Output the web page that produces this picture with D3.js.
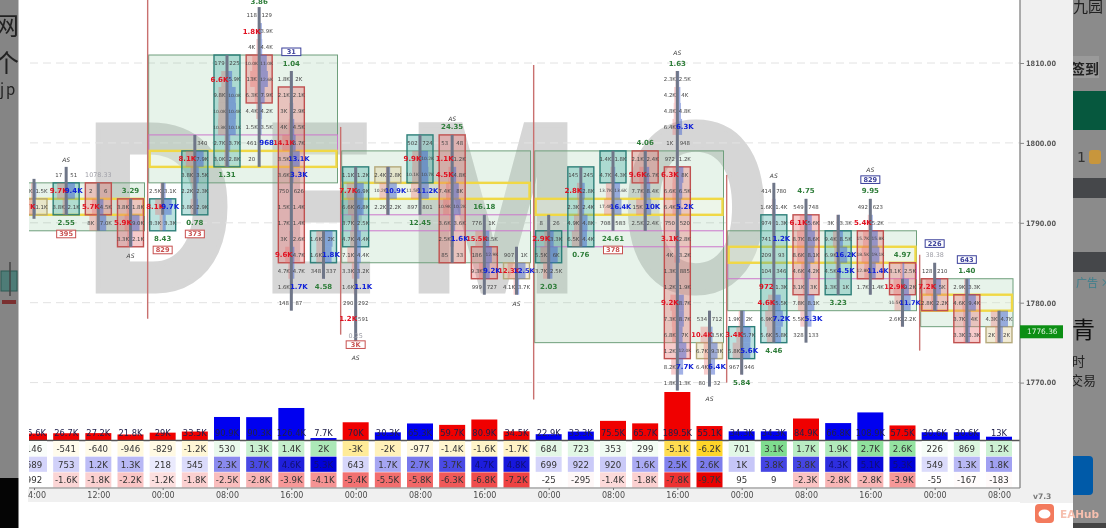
<!DOCTYPE html>
<html><head><meta charset="utf-8">
<style>html,body{margin:0;padding:0;background:#fff;overflow:hidden}svg{display:block;filter:blur(.35px)}text{font-family:"DejaVu Sans",sans-serif}</style>
<script src="https://cdnjs.cloudflare.com/ajax/libs/d3/7.8.5/d3.min.js"></script>
</head><body><svg id="c" width="1106" height="528"></svg>
<script>
// ---- price levels
const priceTicks=[1810,1800,1790,1780,1770];
const lastPrice=1776.36;
const timeLabels=[[0,"04:00"],[2,"12:00"],[4,"00:00"],[6,"08:00"],[8,"16:00"],[10,"00:00"],[12,"08:00"],[14,"16:00"],[16,"00:00"],[18,"08:00"],[20,"16:00"],[22,"00:00"],[24,"08:00"],[26,"16:00"],[28,"00:00"],[30,"08:00"]];
// ---- footprint candles (* = highlighted imbalance)
const firstRow=[1794,1796,1794,1792,1794,1800,1810,1816,1808,1788,1796,1796,1800,1800,1790,1786,1790,1796,1798,1798,1808,1778,1778,1794,1792,1790,1792,1784,1784,1782,1778];
const bodyTop=[1793,1795,1795,1793,1793,1799,1811,1811,1807,1789,1797,1797,1801,1801,1787,1785,1789,1797,1799,1799,1797,1775,1777,1791,1791,1789,1789,1785,1783,1781,1777];
const bodyBottom=[1791,1791,1791,1787,1789,1791,1797,1805,1785,1785,1787,1795,1795,1785,1783,1783,1785,1787,1795,1795,1773,1773,1773,1775,1781,1781,1783,1781,1779,1775,1775];
const stemTop=[1795.5,1797,1795,1793,1795,1801,1811,1817,1809,1789,1797,1797,1801,1801,1791,1787,1791,1797,1799,1799,1809,1779,1779,1795,1793,1791,1793,1783,1785,1783,1779];
const stemBottom=[1790.5,1791,1789,1787,1791,1791,1797,1797,1779,1783,1775,1791,1791,1785,1781,1781,1783,1787,1789,1789,1769,1769.5,1771,1775,1775,1781,1781,1777,1779,1775,1775];
const bodyKind=["d","u","r","r","u","u","u","r","r","u","u","d","u","r","r","d","u","u","u","r","r","d","u","u","r","u","r","r","r","r","d"];
const cells0=[["1.9K","1.5K"],["*5.7K","1.1K"]];
const cells1=[["17","51"],["*9.7K","*9.4K"],["3.8K","2.1K"]];
const cells2=[["2","6"],["*5.7K","4.5K"],["8K","7.0K"]];
const cells3=[["3.8K","1.8K"],["*5.9K","9.0K"],["3.3K","2.1K"]];
const cells4=[["2.5K","3.1K"],["*8.1K","*9.7K"],["3.3K","3.3K"]];
const cells5=[["","340"],["*8.1K","7.9K"],["3.8K","3.5K"],["2.2K","2.3K"],["3.8K","2.9K"]];
const cells6=[["179","225"],["*6.6K","5.9K"],["9.8K","10.0K"],["10.0K","10.4K"],["10.3K","10.1K"],["2.7K","3.7K"],["3.0K","2.8K"]];
const cells7=[["118","129"],["*1.8K","3.9K"],["4K","4.4K"],["10.0K","11.0K"],["13K","12.6K"],["6.3K","7.9K"],["4.4K","4.2K"],["1.5K","3.5K"],["461","*968"],["20",""]];
const cells8=[["1.8K","2K"],["2.1K","2.1K"],["3K","2.9K"],["4K","4.5K"],["*14.1K","6.7K"],["3.5K","*13.1K"],["3.6K","*3.3K"],["750","626"],["1.5K","1.4K"],["1.7K","1.4K"],["3K","2.6K"],["*9.6K","4.7K"],["4.7K","4.7K"],["1.6K","*1.7K"],["148","87"]];
const cells9=[["1.6K","2K"],["1.6K","*1.8K"],["348","337"]];
const cells10=[["1.1K","1.2K"],["*7.7K","6.9K"],["6.6K","6.8K"],["3.7K","2.5K"],["4.7K","4.4K"],["7.1K","4.4K"],["3.3K","3.2K"],["1.6K","*1.1K"],["290","292"],["*1.2K","591"]];
const cells11=[["2.4K","2.8K"],["10.2K","*10.9K"],["2.2K","2.2K"]];
const cells12=[["502","724"],["*9.9K","10.2K"],["10.1K","10.7K"],["11.5K","*11.2K"],["897","801"]];
const cells13=[["53","48"],["*1.1K","1.2K"],["*4.5K","4.8K"],["7.4K","8K"],["10.9K","10.2K"],["3.6K","3.6K"],["2.5K","*1.6K"],["85","33"]];
const cells14=[["776","1K"],["*15.5K","8.5K"],["186","12.9K"],["9.3K","*9.2K"],["999","727"]];
const cells15=[["907","1K"],["*12.3K","*12.5K"],["4.1K","3.7K"]];
const cells16=[["8","26"],["*2.9K","3.3K"],["5.5K","6K"],["3.7K","2.5K"]];
const cells17=[["145","245"],["*2.8K","2.8K"],["2.3K","2.4K"],["4.9K","4.8K"],["6.5K","4.4K"]];
const cells18=[["1.4K","1.8K"],["4.7K","4.3K"],["13.7K","13.6K"],["17.4K","*16.4K"],["708","583"]];
const cells19=[["2.1K","2.4K"],["*9.6K","6.7K"],["7.7K","8.4K"],["15K","*10K"],["2.5K","2.4K"]];
const cells20=[["2.3K","2.5K"],["4.2K","4K"],["4.8K","4.8K"],["6.4K","*6.3K"],["1K","948"],["972","1.2K"],["*6.3K","8K"],["6.6K","6.5K"],["6.4K","*5.2K"],["750","520"],["*3.1K","2.8K"],["4K","3.2K"],["1.3K","885"],["1.2K","1.9K"],["*9.2K","8.7K"],["7.3K","8.7K"],["6.8K","7K"],["1.2K","12.0K"],["8.2K","*7.7K"],["1.8K","1.3K"]];
const cells21=[["534","712"],["*10.4K","3.5K"],["6.7K","9.3K"],["6.4K","*6.4K"],["80","32"]];
const cells22=[["1.9K","2K"],["*3.4K","5.7K"],["5.8K","*5.6K"],["967","946"]];
const cells23=[["414","780"],["1.6K","1.4K"],["974","1.3K"],["741","*1.2K"],["209","93"],["104","346"],["*972","1.3K"],["*4.6K","5.5K"],["6.9K","*7.2K"],["5.6K","5.8K"]];
const cells24=[["549","748"],["*6.1K","5.6K"],["8.7K","8.6K"],["8.6K","8.1K"],["4.6K","4.2K"],["3.1K","3K"],["7.8K","8.1K"],["5.5K","*5.3K"],["328","133"]];
const cells25=[["3K","3.3K"],["9.4K","8.5K"],["6.9K","*16.2K"],["4.5K","*4.5K"],["1.3K","1K"]];
const cells26=[["492","623"],["*5.4K","5.2K"],["15.7K","15.8K"],["18.5K","19.1K"],["12.8K","*11.4K"],["1.7K","1.4K"]];
const cells27=[["3.1K","2.5K"],["*12.9K","9.2K"],["11.5K","*11.7K"],["2.6K","2.2K"]];
const cells28=[["128","210"],["*7.2K","5K"],["2.8K","2.2K"]];
const cells29=[["2.9K","3.3K"],["4.6K","9.4K"],["3.7K","4K"],["3.3K","3.3K"]];
const cells30=[["4.3K","4.7K"],["2K","2K"]];
const allCells=[cells0,cells1,cells2,cells3,cells4,cells5,cells6,cells7,cells8,cells9,cells10,cells11,cells12,cells13,cells14,cells15,cells16,cells17,cells18,cells19,cells20,cells21,cells22,cells23,cells24,cells25,cells26,cells27,cells28,cells29,cells30];
// ---- labels
const ratios=[[1,1790,"2.55"],[3,1794,"3.29"],[4,1788,"8.43"],[5,1790,"0.78"],[6,1796,"1.31"],[8,1810,"1.04"],[9,1782,"4.58"],[12,1790,"12.45"],[13,1802,"24.35"],[14,1792,"16.18"],[16,1782,"2.03"],[17,1786,"0.76"],[18,1788,"24.61"],[19,1800,"4.06"],[20,1810,"1.63"],[22,1770,"5.84"],[23,1774,"4.46"],[24,1794,"4.75"],[25,1780,"3.23"],[26,1794,"9.95"],[27,1786,"4.97"],[29,1784,"1.40"],[7,1817.7,"3.86"]];
const boxedRed=[[1,1788.6,"395"],[4,1786.6,"829"],[5,1788.6,"373"],[10,1774.75,"3K"],[18,1786.6,"378"]];
const boxedBlue=[[8,1811.4,"31"],[26,1795.4,"829"],[28,1787.4,"226"],[29,1785.4,"643"]];
const grayNotes=[[2,1796,"1078.33"],[10,1775.9,"0.25"],[28,1786,"38.38"]];
const signals=[[1,1797.9],[3,1785.9],[10,1773.1],[13,1803],[15,1779.9],[20,1811.3],[21,1768],[23,1795.9],[26,1796.6]];
// ---- sessions: first col, last col, top, bottom, poc top, poc bottom, band top, band bottom
const sessionStart=[0,4,10,16,22,28];
const sessionEnd=[3,9,15,21,27,30];
const vaTop=[1795,1811,1799,1799,1789,1783];
const vaBottom=[1789,1795,1785,1775,1779,1777];
const pocTop=[1793,1799,1795,1793,1787,1781];
const pocBottom=[1791,1797,1793,1791,1785,1779];
const bandTop=[null,1801,1791,1789,1785,null];
const bandBottom=[null,1799,1789,1787,1783,null];
const openLineTop=[null,1818,1802,1809.75,1796,1786];
const openLineBottom=[null,1778,1776,1767.9,1770,1774];
// ---- bottom panel
const volume=[25600,26700,27200,21800,29000,33500,90900,90300,126400,7700,70000,30300,65300,59700,80900,34500,22900,33300,75500,65700,189500,55100,34300,34300,84900,66800,108900,57500,30600,30600,13000];
const volumeDir=["r","r","r","r","r","r","b","b","b","b","r","b","b","r","r","r","b","b","r","r","r","r","b","b","r","b","b","r","b","b","b"];
const deltaRow=[146,-541,-640,-946,-829,-1200,530,1300,1400,2000,-3000,-2000,-977,-1400,-1600,-1700,684,723,353,299,-5100,-6200,701,3100,1700,1900,2700,2600,226,869,1200];
const maxRow=[689,753,1200,1300,218,545,2300,3700,4600,5300,643,1700,2700,3700,4700,4800,699,922,920,1600,2500,2600,1000,3800,3800,4300,5100,5300,549,1300,1800];
const minRow=[992,-1600,-1800,-2200,-1200,-1800,-2500,-2800,-3900,-4100,-5400,-5500,-5800,-6300,-6800,-7200,-25,-295,-1400,-1800,-7800,-9700,95,9,-2300,-2800,-2800,-3900,-55,-167,-183];

const svg=d3.select("#c");
const x=d3.scaleLinear().domain([0,30]).range([34,999]);
const y=d3.scaleLinear().domain([1770,1810]).range([382.6,63]);
const defs=svg.append("defs");
defs.append("clipPath").attr("id","plot").append("rect").attr("x",29).attr("y",0).attr("width",991).attr("height",528);
svg.append("rect").attr("width",1106).attr("height",528).attr("fill","#fff");

// axis column + time strip
svg.append("rect").attr("x",1020).attr("y",0).attr("width",53).attr("height",503).attr("fill","#f0f0f0");
svg.append("rect").attr("x",28).attr("y",489).attr("width",1045).attr("height",13).attr("fill","#f0f0f0");

// watermark
const wm=svg.append("g").attr("fill","#d6d6d6").attr("stroke","#d6d6d6").attr("stroke-width",5);
[["D",84,150],["E",263,112],["M",407,172],["O",622,148]].forEach(([t,lx,lw])=>{
  wm.append("text").attr("x",lx).attr("y",291).attr("font-size",242).attr("style",'font-family:"Liberation Sans";font-weight:700')
    .attr("textLength",lw).attr("lengthAdjust","spacingAndGlyphs").text(t);
});

const plot=svg.append("g").attr("clip-path","url(#plot)");
// grid
plot.selectAll(".g").data(priceTicks).join("line").attr("x1",30).attr("x2",1020)
  .attr("y1",d=>y(d)).attr("y2",d=>y(d)).attr("stroke","#e2e2e2").attr("stroke-dasharray","8 5");

// sessions
sessionStart.forEach((s,i)=>{
  const x0=x(s)-14,x1=x(sessionEnd[i])+14;
  plot.append("rect").attr("x",x0).attr("y",y(vaTop[i])).attr("width",x1-x0).attr("height",y(vaBottom[i])-y(vaTop[i]))
    .attr("fill","rgba(120,190,140,.18)").attr("stroke","#6f9f7c").attr("stroke-width",1);
  if(bandTop[i]!==null) plot.append("rect").attr("x",x0).attr("y",y(bandTop[i])).attr("width",x1-x0).attr("height",y(bandBottom[i])-y(bandTop[i]))
    .attr("fill","none").attr("stroke","#cc77cc").attr("stroke-width",1);
  plot.append("rect").attr("x",x0+1).attr("y",y(pocTop[i])).attr("width",x1-x0-2).attr("height",y(pocBottom[i])-y(pocTop[i]))
    .attr("fill","rgba(255,255,230,.25)").attr("stroke","#f0d845").attr("stroke-width",2.4);
  if(openLineTop[i]!==null) plot.append("line").attr("x1",x0-1).attr("x2",x0-1).attr("y1",y(openLineTop[i])).attr("y2",y(openLineBottom[i]))
    .attr("stroke","#c9706f").attr("stroke-width",1.4);
});

// footprint
const parseV=s=>{s=s.replace("*","");if(!s)return 0;return s.endsWith("K")?parseFloat(s)*1000:parseFloat(s)};
const bodyFill={u:"rgba(60,170,160,.34)",r:"rgba(232,110,110,.36)",d:"rgba(220,205,150,.38)"};
const bodyStroke={u:"#2d7f78",r:"#c0504f",d:"#b5aa7c"};
allCells.forEach((rows,i)=>{
  const g=plot.append("g"),cx=x(i);
  g.append("rect").attr("x",cx-13).attr("y",y(bodyTop[i])).attr("width",26).attr("height",y(bodyBottom[i])-y(bodyTop[i]))
    .attr("fill",bodyFill[bodyKind[i]]).attr("stroke",bodyStroke[bodyKind[i]]).attr("stroke-width",1.4);
  const mx=d3.max(rows,r=>Math.max(parseV(r[0]),parseV(r[1])));
  const w=d3.scaleLinear().domain([0,mx]).range([0,9]);
  const rowY=k=>y(firstRow[i]-2*k);
  rows.forEach((r,k)=>{
    g.append("rect").attr("x",cx-w(parseV(r[0]))).attr("y",rowY(k)-8).attr("width",w(parseV(r[0]))).attr("height",16).attr("fill","rgba(232,100,100,.32)");
    g.append("rect").attr("x",cx).attr("y",rowY(k)-8).attr("width",w(parseV(r[1]))).attr("height",16).attr("fill","rgba(70,100,205,.5)");
  });
  g.append("line").attr("x1",cx).attr("x2",cx).attr("y1",y(stemTop[i])).attr("y2",y(stemBottom[i])).attr("stroke","#6f7688").attr("stroke-width",3);
  rows.forEach((r,k)=>{
    [0,1].forEach(side=>{
      const s=r[side];if(!s)return;const hot=s[0]=="*";
      g.append("text").attr("x",cx+(side?7.5:-7.5)).attr("y",rowY(k)).attr("dy",".36em").attr("text-anchor","middle")
       .attr("font-size",hot?(s.length>5?6.6:7):(s.length>=5?4.4:5.4)).attr("font-weight",hot?700:400)
       .attr("fill",hot?(side?"#1020d8":"#e01020"):"#444").text(s.replace("*",""));
    });
  });
});
// labels
plot.selectAll(".r").data(ratios).join("text").attr("x",d=>x(d[0])).attr("y",d=>y(d[1])).attr("dy",".36em").attr("text-anchor","middle")
  .attr("font-size",7).attr("font-weight",700).attr("fill","#2f7d3a").text(d=>d[2]);
plot.selectAll(".n").data(grayNotes).join("text").attr("x",d=>x(d[0])).attr("y",d=>y(d[1])).attr("dy",".36em").attr("text-anchor","middle")
  .attr("font-size",6.4).attr("fill","#a0a0a8").text(d=>d[2]);
const boxed=(data,col,fill)=>data.forEach(d=>{
  plot.append("rect").attr("x",x(d[0])-9.5).attr("y",y(d[1])-3.8).attr("width",19).attr("height",7.6).attr("fill",fill).attr("stroke",col).attr("stroke-width",1);
  plot.append("text").attr("x",x(d[0])).attr("y",y(d[1])).attr("dy",".36em").attr("text-anchor","middle").attr("font-size",6.6).attr("font-weight",700).attr("fill",col).text(d[2]);
});
boxed(boxedRed,"#c8504f","#fff");
boxed(boxedBlue,"#3a3f9a","#fff");
plot.selectAll(".s").data(signals).join("text").attr("x",d=>x(d[0])).attr("y",d=>y(d[1])).attr("dy",".36em").attr("text-anchor","middle")
  .attr("font-size",6).attr("font-style","italic").attr("fill","#444").text("AS");

// volume bars
const vy=d3.scaleLinear().domain([0,189500]).range([440,392]);
plot.selectAll(".v").data(volume).join("rect").attr("x",(d,i)=>x(i)-13).attr("width",26).attr("y",d=>vy(d)).attr("height",d=>440-vy(d))
  .attr("fill",(d,i)=>volumeDir[i]=="r"?"#f00000":"#0000f0");
const fmtK=v=>{const a=Math.abs(v),s=a<1000?String(a):d3.format(".1f")(a/1000).replace(/\.0$/,"")+"K";return (v<0?"-":"")+s};
plot.selectAll(".vl").data(volume).join("text").attr("x",(d,i)=>x(i)).attr("y",433).attr("dy",".36em").attr("text-anchor","middle")
  .attr("font-size",8.3).attr("fill","#20204a").text(fmtK);
plot.append("line").attr("x1",29).attr("x2",1020).attr("y1",440.5).attr("y2",440.5).attr("stroke","#555").attr("stroke-width",1.6);

// table
const rowBand=d3.scaleBand().domain([0,1,2]).range([441,488]);
const cGreen=d3.scaleLinear().domain([0,3100]).range(["#fff","#7fdc8f"]).clamp(true);
const cYellow=d3.scaleLinear().domain([0,6200]).range(["#fff","#ffd52a"]);
const cBlue=d3.scaleLinear().domain([0,5300]).range(["#f4f4ff","#0000d8"]);
const cRed=d3.scaleLinear().domain([0,9700]).range(["#fff","#e80000"]);
const tbl=[[deltaRow,v=>v>=0?cGreen(v):cYellow(-v)],[maxRow,v=>cBlue(v)],[minRow,v=>v>=0?"#fff":cRed(-v)]];
tbl.forEach(([vals,col],r)=>{
  plot.selectAll(".t"+r).data(vals).join("rect").attr("x",(d,i)=>x(i)-13).attr("width",26).attr("y",rowBand(r)).attr("height",rowBand.bandwidth()-.5).attr("fill",col);
  plot.selectAll(".u"+r).data(vals).join("text").attr("x",(d,i)=>x(i)).attr("y",rowBand(r)+rowBand.bandwidth()/2).attr("dy",".36em").attr("text-anchor","middle")
    .attr("font-size",8.6).attr("fill",d=>(r==1&&d>4000)?"#101070":"#333").text(fmtK);
});

// axes
svg.append("line").attr("x1",29).attr("x2",1020).attr("y1",488).attr("y2",488).attr("stroke","#777").attr("stroke-width",1.2);
svg.append("line").attr("x1",1020).attr("x2",1020).attr("y1",0).attr("y2",488).attr("stroke","#8a8a8a").attr("stroke-width",1.4);
const rightAxis=d3.axisRight(y).tickValues(priceTicks).tickFormat(d3.format(".2f")).tickSize(4).tickPadding(2);
const ra=svg.append("g").attr("transform","translate(1020,0)").call(rightAxis);
ra.select(".domain").remove();
ra.selectAll("line").attr("stroke","#888");
ra.selectAll("text").attr("font-size",7.4).attr("font-weight",700).attr("fill","#5a5a5a").style("font-family",'"DejaVu Sans"').attr("textLength",30).attr("lengthAdjust","spacingAndGlyphs");
const bottomAxis=d3.axisBottom(x).tickValues(timeLabels.map(d=>d[0])).tickFormat((d,i)=>timeLabels[i][1]).tickSize(2).tickPadding(2);
const ba2=svg.append("g").attr("clip-path","url(#axclip)");
defs.append("clipPath").attr("id","axclip").append("rect").attr("x",28).attr("y",480).attr("width",1000).attr("height",30);
const bb=ba2.append("g").attr("transform","translate(0,488)").call(bottomAxis);
bb.select(".domain").remove();
bb.selectAll("line").attr("stroke","#777");
bb.selectAll("text").attr("font-size",8).attr("fill","#4c4c4c").style("font-family",'"DejaVu Sans"').style("font-weight",400);
svg.append("text").attr("x",1033).attr("y",496).attr("dy",".36em").attr("font-size",7.6).attr("font-weight",700).attr("fill","#777").text("v7.3");
// last price tag
svg.append("rect").attr("x",1020).attr("y",y(lastPrice)-6.5).attr("width",43).attr("height",13).attr("fill","#0c8f14");
svg.append("text").attr("x",1027).attr("y",y(lastPrice)).attr("dy",".36em").attr("font-size",7.4).attr("fill","#dff5df").attr("font-weight",400).text(d3.format(".2f")(lastPrice));

// photographed surroundings
const cjk='font-family:"Noto Sans CJK SC"';
svg.append("rect").attr("x",0).attr("width",18.5).attr("y",0).attr("height",478).attr("fill","#858585");
svg.append("rect").attr("x",0).attr("width",18.5).attr("y",478).attr("height",50).attr("fill","#050505");
defs.append("clipPath").attr("id","lclip").append("rect").attr("x",0).attr("y",0).attr("width",18.5).attr("height",528);
const lg=svg.append("g").attr("clip-path","url(#lclip)");
[["网",-6,35,25],["个",-6,72,25],["j",0,95,15],["p",6,95,15]].forEach(([t,a,b,s])=>lg.append("text").attr("x",a).attr("y",b).attr("font-size",s).attr("fill","#222").attr("style",cjk).text(t));
lg.append("rect").attr("x",1).attr("y",271).attr("width",16).attr("height",20).attr("fill","#4e7c77").attr("stroke","#2c5a55");
lg.append("line").attr("x1",10).attr("x2",10).attr("y1",262).attr("y2",296).attr("stroke","#444").attr("stroke-width",1.5);
lg.append("rect").attr("x",2).attr("y",300).attr("width",14).attr("height",4).attr("fill","#7a3030");

svg.append("rect").attr("x",1073).attr("width",33).attr("y",0).attr("height",523).attr("fill","#8b8b8b");
svg.append("rect").attr("x",1073).attr("width",33).attr("y",523).attr("height",5).attr("fill","#444");
defs.append("clipPath").attr("id","rclip").append("rect").attr("x",1073).attr("y",0).attr("width",33).attr("height",528);
const rg=svg.append("g").attr("clip-path","url(#rclip)");
rg.append("text").attr("x",1073).attr("y",12).attr("font-size",15).attr("fill","#222").attr("style",cjk).text("九园");
rg.append("rect").attr("x",1073).attr("y",56).attr("width",26).attr("height",22).attr("fill","#9a9a9a");
rg.append("text").attr("x",1071).attr("y",74).attr("font-size",14).attr("font-weight",700).attr("fill","#222").attr("style",cjk).text("签到");
rg.append("rect").attr("x",1073).attr("y",91).attr("width",33).attr("height",39).attr("fill","#06583e");
rg.append("text").attr("x",1077).attr("y",162).attr("font-size",14).attr("fill","#333").text("1");
rg.append("rect").attr("x",1089).attr("y",150).attr("width",12).attr("height",14).attr("rx",3).attr("fill","#c8963c");
rg.append("rect").attr("x",1073).attr("y",178).attr("width",33).attr("height",20).attr("fill","#45474a");
rg.append("rect").attr("x",1073).attr("y",252).attr("width",33).attr("height",20).attr("fill","#45474a");
rg.append("text").attr("x",1076).attr("y",287).attr("font-size",11).attr("fill","#3d7f8d").attr("style",cjk).text("广告 ×");
rg.append("text").attr("x",1072).attr("y",338).attr("font-size",23).attr("fill","#111").attr("style",cjk).text("青");
rg.append("text").attr("x",1072).attr("y",366).attr("font-size",13).attr("fill","#222").attr("style",cjk).text("时");
rg.append("text").attr("x",1070).attr("y",385).attr("font-size",13).attr("fill","#222").attr("style",cjk).text("交易");
rg.append("rect").attr("x",1060).attr("y",456).attr("width",33).attr("height",39).attr("rx",4).attr("fill","#005aa8");
// stamp
svg.append("rect").attr("x",1035).attr("y",504).attr("width",19).attr("height",19).attr("rx",4).attr("fill","#f37a5d");
svg.append("ellipse").attr("cx",1044.5).attr("cy",514).attr("rx",6).attr("ry",4.5).attr("fill","#fff");
svg.append("text").attr("x",1060).attr("y",518).attr("font-size",10.5).attr("font-weight",700).attr("fill","#f6bfae").text("EAHub");
</script></body></html>
